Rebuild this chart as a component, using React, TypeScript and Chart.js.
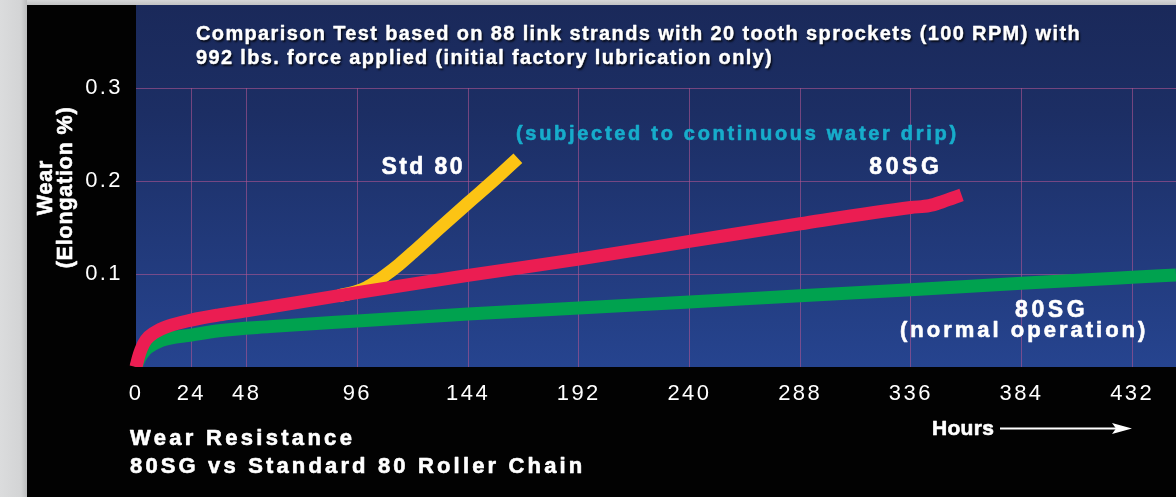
import React, { useEffect, useRef } from 'react';
import { Chart, registerables } from 'chart.js';

Chart.register(...registerables);

// ---- Data ----
const xTickHours = [0, 24, 48, 96, 144, 192, 240, 288, 336, 384, 432];
const yTickWear = [0, 0.1, 0.2, 0.3];

// 80SG, normal operation (green)
const normalHours = [0, 1.5, 4, 11, 24, 36, 58, 96, 144, 192, 240, 288, 336, 384, 432, 451];
const normalWear = [0, 0.009, 0.018, 0.0285, 0.0343, 0.039, 0.0434, 0.0495, 0.057, 0.0635, 0.07, 0.0765, 0.083, 0.09, 0.0965, 0.099];

// 80SG, subjected to continuous water drip (red)
const waterHours = [0, 1, 2.2, 4.3, 8, 14, 24, 36, 48, 96, 144, 192, 240, 288, 336, 344, 350, 358];
const waterWear = [0, 0.01, 0.019, 0.029, 0.037, 0.044, 0.0505, 0.056, 0.0605, 0.08, 0.0985, 0.116, 0.135, 0.154, 0.1715, 0.1735, 0.178, 0.185];

// Std 80, subjected to continuous water drip (yellow)
const stdHours = [88, 96, 100, 104, 108, 114, 120, 132, 144, 156, 165.6];
const stdWear = [0.0765, 0.0815, 0.0855, 0.0915, 0.0985, 0.11, 0.123, 0.15, 0.1765, 0.2025, 0.2245];

const titleLines = [
  'Comparison Test based on 88 link strands with 20 tooth sprockets (100 RPM) with',
  '992 lbs. force applied (initial factory lubrication only)',
];
const yTitleLines = ['Wear', '(Elongation %)'];

const FONT = '"Liberation Sans", Arial, Helvetica, sans-serif';

const pairs = (xs: number[], ys: number[]) => xs.map((x, i) => ({ x, y: ys[i] }));

function drawText(
  ctx: CanvasRenderingContext2D,
  s: string,
  x: number,
  y: number,
  size: number,
  color: string,
  spacing: number,
  opts: { align?: CanvasTextAlign; bold?: boolean; shadow?: boolean; stroke?: number } = {}
) {
  ctx.save();
  ctx.font = `${opts.bold === false ? 'normal' : 'bold'} ${size}px ${FONT}`;
  (ctx as any).letterSpacing = `${spacing}px`;
  ctx.textAlign = opts.align || 'left';
  ctx.textBaseline = 'alphabetic';
  if (opts.shadow) {
    ctx.shadowColor = 'rgba(0,0,0,0.8)';
    ctx.shadowOffsetX = 1.5;
    ctx.shadowOffsetY = 2;
    ctx.shadowBlur = 2;
  }
  ctx.fillStyle = color;
  ctx.fillText(s, x, y);
  const sw = opts.stroke === undefined ? 0.6 : opts.stroke;
  if (sw > 0) {
    ctx.shadowColor = 'rgba(0,0,0,0)';
    ctx.shadowBlur = 0;
    ctx.shadowOffsetX = 0;
    ctx.shadowOffsetY = 0;
    ctx.strokeStyle = color;
    ctx.lineWidth = sw;
    ctx.lineJoin = 'round';
    ctx.strokeText(s, x, y);
  }
  ctx.restore();
}

const decorPlugin = {
  id: 'decor',
  beforeDraw(chart: any) {
    const { ctx, chartArea, width, height } = chart;
    ctx.save();
    const g = ctx.createLinearGradient(0, 0, 28, 0);
    g.addColorStop(0, '#dbdcdd');
    g.addColorStop(0.75, '#d3d4d5');
    g.addColorStop(1, '#b8b9ba');
    ctx.fillStyle = g;
    ctx.fillRect(0, 0, width, height);
    const gt = ctx.createLinearGradient(0, 0, 0, 6);
    gt.addColorStop(0, '#d6d7d8');
    gt.addColorStop(1, '#bdbebf');
    ctx.fillStyle = gt;
    ctx.fillRect(27, 0, width - 27, 5);
    ctx.fillStyle = '#020202';
    ctx.fillRect(27, 5, width - 27, height - 5);
    const bg = ctx.createLinearGradient(0, 5, 0, chartArea.bottom);
    bg.addColorStop(0, '#1a295a');
    bg.addColorStop(0.3, '#1c2e64');
    bg.addColorStop(1, '#26448f');
    ctx.fillStyle = bg;
    ctx.fillRect(chartArea.left, 5, width - chartArea.left, chartArea.bottom - 5);
    ctx.restore();
    ctx.letterSpacing = '2.4px';
  },
  afterDraw(chart: any) {
    const ctx: CanvasRenderingContext2D = chart.ctx;
    ctx.letterSpacing = '0px';
    // Title
    drawText(ctx, titleLines[0], 196, 39.5, 20, '#ffffff', 1.36, { shadow: true, stroke: 0.4 });
    drawText(ctx, titleLines[1], 196, 64, 20, '#ffffff', 1.33, { shadow: true, stroke: 0.4 });
    // Annotations
    drawText(ctx, '(subjected to continuous water drip)', 516, 140, 20, '#17adcb', 2.7);
    drawText(ctx, 'Std 80', 381.5, 173.5, 23, '#ffffff', 2.4);
    drawText(ctx, '80SG', 869.3, 173.5, 23, '#ffffff', 3.6);
    drawText(ctx, '80SG', 1015, 316.5, 23, '#ffffff', 3.6);
    drawText(ctx, '(normal operation)', 900, 336.5, 22, '#ffffff', 3);
    // Bottom captions
    drawText(ctx, 'Wear Resistance', 130, 444.5, 22, '#ffffff', 3.3);
    drawText(ctx, '80SG vs Standard 80 Roller Chain', 130, 473, 22, '#ffffff', 3.15);
    // Hours arrow
    drawText(ctx, 'Hours', 932, 434.5, 21, '#ffffff', 0.3);
    ctx.save();
    ctx.strokeStyle = '#ffffff';
    ctx.fillStyle = '#ffffff';
    ctx.lineWidth = 2;
    ctx.beginPath();
    ctx.moveTo(1000, 428.5);
    ctx.lineTo(1118, 428.5);
    ctx.stroke();
    ctx.beginPath();
    ctx.moveTo(1112, 423);
    ctx.lineTo(1132, 428.5);
    ctx.lineTo(1112, 434);
    ctx.lineTo(1116, 428.5);
    ctx.closePath();
    ctx.fill();
    ctx.restore();
    // Y-axis title (rotated)
    const ys = [51.5, 72];
    yTitleLines.forEach((line, i) => {
      ctx.save();
      ctx.translate(ys[i], 187.5);
      ctx.rotate(-Math.PI / 2);
      drawText(ctx, line, 0, 0, 21.5, '#ffffff', 0.8, { align: 'center' });
      ctx.restore();
    });
  },
};

export default function App() {
  const canvasRef = useRef<HTMLCanvasElement | null>(null);

  useEffect(() => {
    const canvas = canvasRef.current;
    if (!canvas) return;
    const gridColor = (c: any) => (c.tick && c.tick.value === 0 ? 'rgba(0,0,0,0)' : 'rgba(175,85,145,0.6)');
    const clip = { left: 12, top: 12, right: 0, bottom: 0 };
    const chart = new Chart(canvas, {
      type: 'line',
      data: {
        datasets: [
          {
            label: '80SG (continuous water drip)',
            data: pairs(waterHours, waterWear),
            borderColor: '#eb1d52',
            backgroundColor: '#eb1d52',
            borderWidth: 13,
            order: 1,
            clip,
          } as any,
          {
            label: 'Std 80',
            data: pairs(stdHours, stdWear),
            borderColor: '#fcc414',
            backgroundColor: '#fcc414',
            borderWidth: 13,
            order: 2,
            clip,
          } as any,
          {
            label: '80SG (normal operation)',
            data: pairs(normalHours, normalWear),
            borderColor: '#00a24f',
            backgroundColor: '#00a24f',
            borderWidth: 13,
            order: 3,
            clip,
          } as any,
        ],
      },
      options: {
        responsive: false,
        animation: false,
        devicePixelRatio: 1,
        layout: { padding: { top: 88, left: 0, right: 0, bottom: 0 } },
        plugins: {
          legend: { display: false },
          tooltip: { enabled: false },
          title: { display: false },
        },
        elements: {
          point: { radius: 0, hoverRadius: 0 },
          line: { cubicInterpolationMode: 'monotone', borderCapStyle: 'butt', borderJoinStyle: 'round' },
        },
        scales: {
          x: {
            type: 'linear',
            min: 0,
            max: 451,
            afterBuildTicks: (s: any) => {
              s.ticks = xTickHours.map((v) => ({ value: v }));
            },
            afterFit: (s: any) => {
              s.height = 130;
            },
            grid: { color: gridColor, lineWidth: 1, drawTicks: false },
            border: { display: false },
            ticks: {
              color: '#ffffff',
              font: { family: FONT, size: 22 },
              padding: 14,
              maxRotation: 0,
              autoSkip: false,
              callback: (v: any) => String(v),
            },
          },
          y: {
            type: 'linear',
            min: 0,
            max: 0.3,
            afterBuildTicks: (s: any) => {
              s.ticks = yTickWear.map((v) => ({ value: v }));
            },
            afterFit: (s: any) => {
              s.width = 136;
            },
            grid: { color: gridColor, lineWidth: 1, drawTicks: false },
            border: { display: false },
            ticks: {
              color: '#ffffff',
              font: { family: FONT, size: 22 },
              padding: 13,
              callback: (v: any) => (Number(v) === 0 ? '' : Number(v).toFixed(1)),
            },
          },
        },
      } as any,
      plugins: [decorPlugin],
    });
    return () => chart.destroy();
  }, []);

  return (
    <div style={{ position: 'fixed', left: 0, top: 0, width: 1176, height: 497, overflow: 'hidden' }}>
      <canvas ref={canvasRef} width={1176} height={497} style={{ display: 'block', width: 1176, height: 497 }} />
    </div>
  );
}
